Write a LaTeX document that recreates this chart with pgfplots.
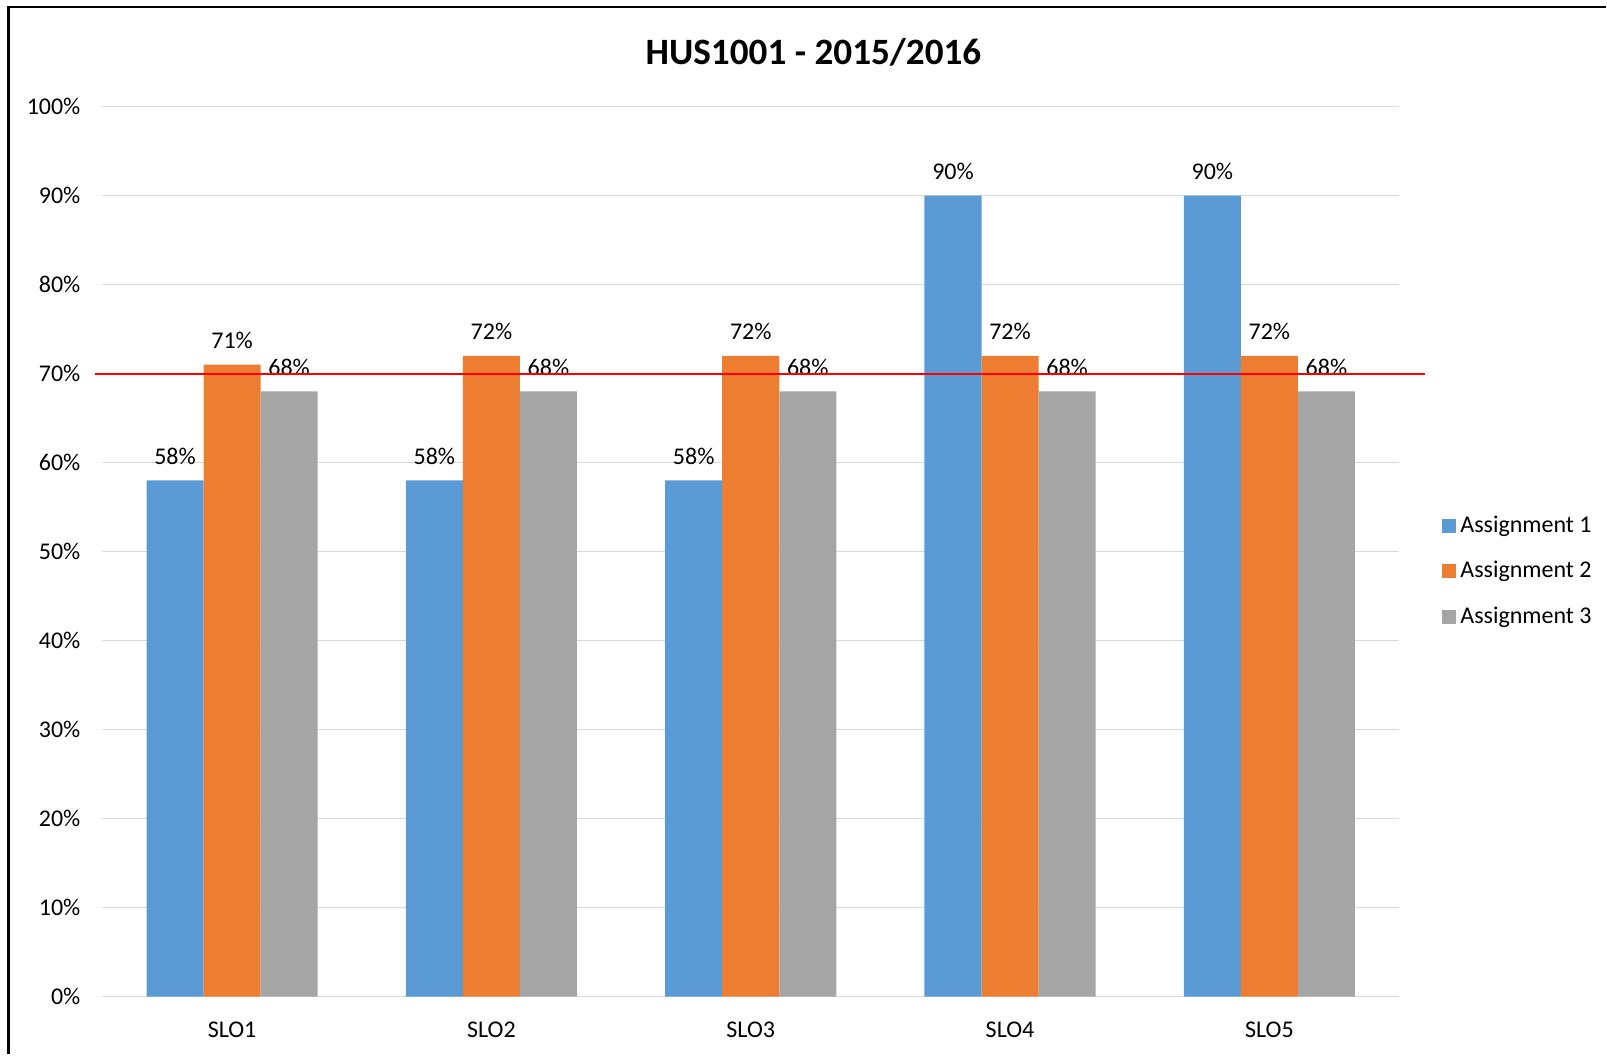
\documentclass[border=0pt]{standalone}
\usepackage{pgfplots}
\pgfplotsset{compat=1.18}
\usepackage{fontspec}
\setmainfont{Carlito}

\definecolor{aone}{HTML}{5B9BD5}
\definecolor{atwo}{HTML}{ED7D31}
\definecolor{athree}{HTML}{A5A5A5}
\definecolor{gridc}{HTML}{D9D9D9}

\newcommand{\lbl}{\fontsize{12}{14}\selectfont}

\pgfplotsset{
  frame/.style = {
    at = {(51.25pt,28.85pt)}, anchor = south west,
    scale only axis,
    width  = 648.75pt,
    height = 445.3pt,
    xmin = -0.5, xmax = 4.5,
    ymin = 0, ymax = 100,
    clip = false,
  },
}

\begin{document}
\begin{tikzpicture}
% page size and chart frame (reference is cropped right and bottom)
\path (0,0) rectangle (803.5pt,527.5pt);
\draw[line width=1.1pt] (4.3pt,0) -- (4.3pt,523.9pt) -- (803.5pt,523.9pt);
\node[font=\fontsize{18.6}{22}\selectfont\bfseries] at (407pt,501.5pt) {HUS1001 - 2015/2016};

\begin{axis}[
  frame,
  ybar = 0pt,
  bar width = 0.22,
  xtick = {0,1,2,3,4},
  xticklabels = {SLO1,SLO2,SLO3,SLO4,SLO5},
  ytick = {0,10,...,100},
  /pgf/number format/assume math mode=true,
  yticklabel = {\pgfmathprintnumber{\tick}\%},
  ticklabel style = {font=\lbl},
  yticklabel style = {xshift=-7.5pt},
  xticklabel style = {yshift=-9pt},
  major tick length = 0pt,
  tick style = {draw=none},
  axis line style = {draw=none},
  ymajorgrids = true,
  grid style = {gridc, line width=0.8pt},
  nodes near coords = {\pgfmathprintnumber{\pgfplotspointmeta}\%},
  nodes near coords style = {font=\lbl, anchor=south, yshift=4.5pt},
  legend style = {at={(axis description cs:1,0.478)}, anchor=west,
                  xshift=21.5pt, draw=none, font=\lbl, row sep=9pt,
                  inner sep=0pt},
  legend cell align = left,
  legend image code/.code = {\fill[#1] (0pt,-3.5pt) rectangle (7pt,3.5pt);},
]
  \addplot[fill=aone, draw=none]
    coordinates {(0,58)(1,58)(2,58)(3,90)(4,90)};
  \addplot[fill=atwo, draw=none]
    coordinates {(0,71)(1,72)(2,72)(3,72)(4,72)};
  \addplot[fill=athree, draw=none]
    coordinates {(0,68)(1,68)(2,68)(3,68)(4,68)};
  \legend{Assignment 1, Assignment 2, Assignment 3}
\end{axis}

% target line at 70%
\begin{axis}[frame, hide axis]
  \addplot[red, line width=1pt, mark=none]
    coordinates {(-0.53,70)(4.6,70)};
\end{axis}
\end{tikzpicture}
\end{document}
